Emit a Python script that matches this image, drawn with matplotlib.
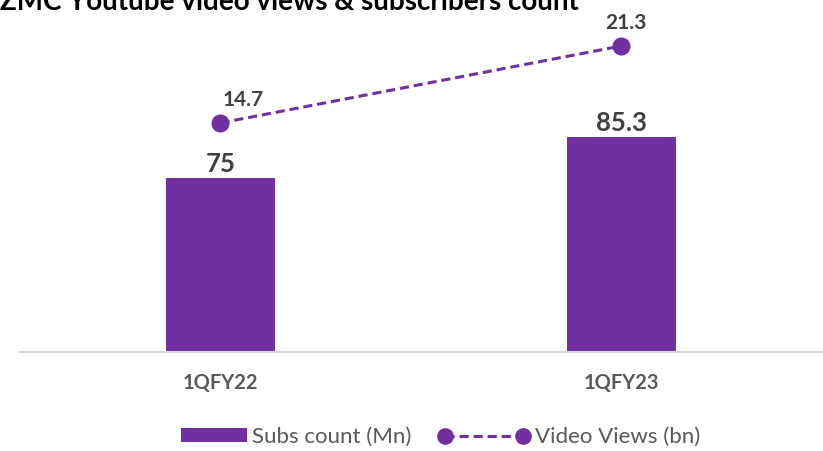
import matplotlib
matplotlib.use("Agg")
import matplotlib.pyplot as plt
from matplotlib.lines import Line2D
from matplotlib.patches import Patch, Rectangle
from matplotlib.legend_handler import HandlerPatch

categories = ["1QFY22", "1QFY23"]
subs_count = [75, 85.3]
video_views = [14.7, 21.3]
subs_labels = ["75", "85.3"]
views_labels = ["14.7", "21.3"]

purple = "#7030A0"
gray = "#404040"
plt.rcParams['font.family'] = ['Lato', 'DejaVu Sans']

W, H = 823, 451
fig = plt.figure(figsize=(W/100, H/100), dpi=100)
ax = fig.add_axes([20/W, (H-352)/H, 802/W, 342/H])
x = list(range(len(categories)))
ax.bar(x, subs_count, width=0.272, color=purple, zorder=2)
ax.set_xlim(-0.5, 1.5)
ax.set_ylim(31.3, 117.2)
for s in ["top", "right", "left"]:
    ax.spines[s].set_visible(False)
ax.spines["bottom"].set_color("#D9D9D9")
ax.spines["bottom"].set_linewidth(1.5)
ax.set_yticks([])
ax.set_xticks(x)
ax.set_xticklabels(categories, fontsize=14.5, fontweight="bold", color="#595959")
ax.tick_params(axis="x", length=0, pad=15)
for xi, v, lab in zip(x, subs_count, subs_labels):
    ax.annotate(lab, (xi, v), xytext=(0, 1.5), textcoords="offset points",
                ha="center", va="bottom", fontsize=18.5, fontweight="bold", color=gray)

ax2 = ax.twinx()
ax2.set_ylim(-4.93, 24.38)
ls = (0, (3, 1.6))
ax2.plot(x, video_views, color=purple, linestyle=ls, linewidth=2.2,
         marker="o", markersize=12, zorder=3)
for s in ax2.spines.values():
    s.set_visible(False)
ax2.set_yticks([])
view_dx = [16, 3]
for xi, v, lab, dx in zip(x, video_views, views_labels, view_dx):
    ax2.annotate(lab, (xi, v), xytext=(dx, 9), textcoords="offset points",
                 ha="center", va="bottom", fontsize=15, fontweight="bold", color=gray)

fig.text(0, 0.995, "ZMC Youtube video views & subscribers count", ha="left", va="center",
         fontsize=20, fontweight="bold", color="black")


def bar_patch(legend, orig_handle, xdescent, ydescent, width, height, fontsize):
    w = width * 0.72
    return Rectangle((-xdescent + width - w, -ydescent), w, height)


handles = [Patch(facecolor=purple, edgecolor="none"),
           Line2D([0], [0], color=purple, linestyle=ls, linewidth=2.2,
                  marker="o", markersize=11)]
leg = fig.legend(handles, ["Subs count (Mn)", "Video Views (bn)"], loc="center",
                 bbox_to_anchor=(428/W, (H-437)/H), ncol=2, frameon=False,
                 fontsize=16, handlelength=4.1, handleheight=0.55, columnspacing=1.2,
                 handletextpad=0.25, numpoints=2, labelcolor="#595959",
                 handler_map={Patch: HandlerPatch(patch_func=bar_patch)})
fig.savefig("out.png", dpi=100)
